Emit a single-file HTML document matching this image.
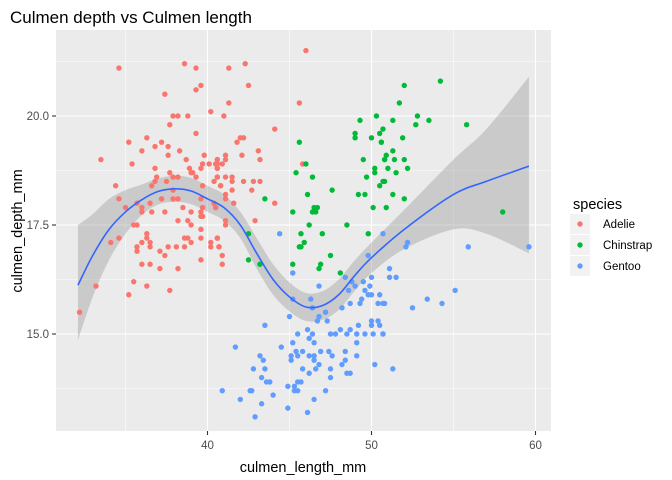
<!DOCTYPE html>
<html><head><meta charset="utf-8">
<style>
body{margin:0;background:#fff;}
svg{display:block;font-family:"Liberation Sans",sans-serif;}
</style></head>
<body>
<svg id="chart" width="672" height="480" viewBox="0 0 672 480">
<text x="10" y="23" font-size="17" fill="#000">Culmen depth vs Culmen length</text>
<rect x="56" y="30" width="495" height="401" fill="#EBEBEB"/>
<g id="grid"></g>
<g id="band"></g>
<g id="points"></g>
<g id="line"></g>
<g id="axes"></g>
<text x="303" y="472" font-size="14.5" text-anchor="middle" fill="#000">culmen_length_mm</text>
<text transform="translate(22,231) rotate(-90)" font-size="14.5" text-anchor="middle" fill="#000">culmen_depth_mm</text>
<g>
<text x="573" y="209" font-size="14.5" fill="#000">species</text>
<g id="legend"></g>
</g>
</svg>
<script>
const xTicks=[40,50,60];
const yTicks=[15.0,17.5,20.0];
const xMinor=[35,45,55];
const yMinor=[13.75,16.25,18.75,21.25];
const speciesNames=["Adelie","Chinstrap","Gentoo"];
const speciesColors=["#F8766D","#00BA38","#619CFF"];
const adelieX=[34.6,38.6,39.3,39.6,39.3,37.4,40.2,37.9,38.2,38.8,37.7,39.3,36.3,35.2,37.2,36.8,37.6,36.0,38.3,37.6,39.8,33.5,38.7,40.6,35.4,39.7,40.1,40.5,36.8,38.9,39.6,40.6,37.7,39.0,39.1,36.9,37.9,38.2,39.3,40.6,36.8,37.5,40.4,34.4,36.6,39.7,40.8,37.9,34.6,37.2,37.9,38.2,39.6,35.7,36.5,40.4,35.0,36.0,38.5,39.7,40.5,36.0,36.6,37.4,39.0,39.6,39.6,39.7,38.2,38.8,35.5,35.7,39.0,39.6,36.3,34.1,34.6,36.0,36.5,36.3,38.6,38.8,39.6,40.6,39.0,40.2,35.7,36.5,37.6,38.1,38.6,40.2,40.7,35.7,37.1,37.4,39.6,36.0,36.5,37.1,38.2,35.5,33.2,36.3,37.7,35.2,32.2,46.0,42.3,41.3,42.5,41.3,45.6,41.0,44.1,42.0,42.2,41.8,43.1,41.1,42.1,43.2,40.6,41.1,40.6,40.9,45.8,40.6,40.6,41.1,41.5,41.5,42.2,42.8,43.2,40.8,41.5,42.7,41.1,41.1,41.6,44.1,40.5,41.1,42.9,41.1,40.6,40.7,40.9,40.9];
const adelieY=[21.1,21.2,21.1,20.7,20.6,20.5,20.1,20.0,20.0,20.0,19.8,19.6,19.5,19.4,19.4,19.3,19.3,19.2,19.2,19.1,19.1,19.0,19.0,19.0,18.9,18.9,18.9,18.9,18.8,18.8,18.8,18.8,18.7,18.7,18.7,18.6,18.6,18.6,18.6,18.6,18.5,18.5,18.5,18.4,18.4,18.4,18.4,18.3,18.1,18.1,18.1,18.1,18.1,18.0,18.0,18.0,17.9,17.9,17.9,17.9,17.9,17.8,17.8,17.8,17.8,17.8,17.7,17.7,17.6,17.6,17.5,17.5,17.5,17.4,17.3,17.1,17.2,17.1,17.1,17.2,17.2,17.2,17.2,17.2,17.1,17.1,17.0,17.0,17.0,17.0,17.0,17.0,17.0,16.9,16.9,16.8,16.7,16.6,16.6,16.5,16.5,16.2,16.1,16.1,16.0,15.9,15.5,21.5,21.2,21.1,20.7,20.3,20.3,20.0,19.7,19.5,19.5,19.4,19.2,19.1,19.1,19.0,19.0,19.0,18.9,18.9,18.9,18.8,18.6,18.6,18.6,18.5,18.5,18.5,18.5,18.4,18.3,18.3,18.2,18.1,18.0,18.0,17.9,17.6,17.6,17.5,17.2,17.0,16.8,16.6];
const chinstrapX=[49.3,50.3,50.7,49.0,50.5,49.0,50.0,45.6,50.6,49.5,50.8,46.0,50.2,45.4,50.2,46.4,49.7,50.7,50.5,47.6,46.1,49.2,49.6,43.5,46.5,46.7,50.1,45.2,46.4,46.6,46.2,48.5,45.7,47.0,49.8,42.5,45.9,45.6,45.7,47.5,42.5,43.2,45.2,46.9,46.8,48.1,52.0,54.2,51.7,52.8,51.3,53.5,52.7,55.8,51.9,50.6,51.3,50.9,50.8,51.4,52.0,51.0,52.2,51.5,50.8,51.3,52.0,50.9,58.0];
const chinstrapY=[19.9,20.0,19.7,19.6,19.6,19.5,19.5,19.4,19.4,19.0,19.0,18.9,18.8,18.7,18.7,18.6,18.6,18.5,18.4,18.3,18.2,18.2,18.2,18.1,17.9,17.9,17.9,17.8,17.8,17.8,17.5,17.5,17.3,17.3,17.3,17.3,17.1,17.0,17.0,16.8,16.7,16.6,16.6,16.6,16.5,16.4,20.7,20.8,20.3,20.0,19.9,19.9,19.8,19.8,19.5,19.4,19.2,19.1,19.0,19.0,19.0,18.8,18.8,18.7,18.5,18.2,18.1,17.9,17.8];
const gentooX=[44.4,50.7,49.8,45.2,48.4,50.0,48.8,49.5,46.8,49.0,49.9,49.6,48.6,49.8,50.0,50.5,45.2,46.3,49.4,48.7,49.3,50.4,50.7,46.4,48.2,47.2,45.0,46.8,46.7,47.3,50.0,50.4,43.5,49.2,50.0,50.5,46.1,48.1,48.7,45.5,46.4,47.5,47.8,48.5,49.1,49.6,50.1,50.7,46.2,46.5,45.2,49.1,41.7,44.5,45.4,45.8,46.9,47.4,48.4,43.2,45.1,45.5,46.2,46.5,47.6,49.1,43.4,45.1,46.5,48.4,46.8,48.2,50.2,42.8,43.5,45.8,46.6,47.5,46.2,48.5,48.7,43.3,47.5,43.6,43.8,45.5,45.7,44.9,45.3,40.9,42.6,42.7,45.3,45.5,47.2,42.0,46.5,44.0,43.3,44.9,46.1,42.9,52.1,52.2,55.9,59.6,51.1,51.1,51.5,55.1,50.8,54.3,53.4,52.5,50.7,51.3];
const gentooY=[17.3,17.3,16.8,16.4,16.3,16.3,16.2,16.2,16.1,16.1,16.1,16.0,16.0,15.9,15.9,15.9,15.8,15.8,15.8,15.7,15.7,15.7,15.7,15.6,15.6,15.5,15.4,15.4,15.3,15.3,15.3,15.3,15.2,15.2,15.2,15.2,15.1,15.1,15.1,15.0,15.0,15.0,15.0,15.0,15.0,15.0,15.0,15.0,14.9,14.8,14.8,14.8,14.7,14.7,14.6,14.6,14.6,14.6,14.6,14.5,14.5,14.5,14.5,14.5,14.5,14.5,14.4,14.4,14.4,14.4,14.3,14.3,14.3,14.2,14.2,14.2,14.2,14.2,14.1,14.1,14.1,14.0,14.0,13.9,13.9,13.9,13.9,13.8,13.8,13.7,13.7,13.7,13.7,13.7,13.7,13.5,13.5,13.6,13.4,13.3,13.2,13.1,17.0,17.1,17.0,17.0,16.5,16.3,16.3,16.0,15.7,15.7,15.8,15.6,15.0,14.2];
const smoothX=[32.1,33,34,35,36,37,38,39,40,41,42,43,44,45,46,47,48,49,50,52,55,57,59.6];
const smoothFit=[16.12,16.8,17.4,17.8,18.08,18.27,18.33,18.28,18.1,17.9,17.5,16.85,16.25,15.85,15.62,15.65,15.9,16.35,16.75,17.4,18.2,18.5,18.85];
const smoothHi=[17.5,17.75,18.1,18.3,18.43,18.57,18.63,18.58,18.4,18.2,17.8,17.2,16.6,16.18,15.94,15.98,16.25,16.7,17.1,17.85,19.0,19.7,20.9];
const smoothLo=[14.86,15.85,16.7,17.3,17.73,17.97,18.03,17.98,17.8,17.6,17.2,16.5,15.9,15.52,15.3,15.32,15.55,16.0,16.4,16.95,17.4,17.3,16.85];

const NS='http://www.w3.org/2000/svg';
const PL=56,PR=551,PT=30,PB=431;
function sx(v){return 207.5+(v-40)*16.4;}
function sy(v){return 116-(v-20)*43.6;}
function mk(tag,attrs,parent){const e=document.createElementNS(NS,tag);for(const k in attrs)e.setAttribute(k,attrs[k]);parent.appendChild(e);return e;}
// Catmull-Rom spline through pixel points
function spline(P,first){
 let s=first?('M'+P[0][0]+','+P[0][1]):('L'+P[0][0]+','+P[0][1]);
 for(let i=0;i<P.length-1;i++){
  const p0=P[Math.max(0,i-1)],p1=P[i],p2=P[i+1],p3=P[Math.min(P.length-1,i+2)];
  const c1x=p1[0]+(p2[0]-p0[0])/6,c1y=p1[1]+(p2[1]-p0[1])/6;
  const c2x=p2[0]-(p3[0]-p1[0])/6,c2y=p2[1]-(p3[1]-p1[1])/6;
  s+='C'+c1x+','+c1y+' '+c2x+','+c2y+' '+p2[0]+','+p2[1];
 }
 return s;
}
const grid=document.getElementById('grid');
xMinor.forEach(v=>{const l=mk('line',{x1:sx(v),x2:sx(v),y1:PT,y2:PB,stroke:'#fff','stroke-width':0.55},grid);

});
yMinor.forEach(v=>{const l=mk('line',{x1:PL,x2:PR,y1:sy(v),y2:sy(v),stroke:'#fff','stroke-width':0.55},grid);

});
const axes=document.getElementById('axes');
xTicks.forEach(v=>{const l=mk('line',{x1:sx(v),x2:sx(v),y1:PT,y2:PB,stroke:'#fff','stroke-width':1.1},grid);


const t=mk('line',{x1:sx(v),x2:sx(v),y1:PB,y2:PB+4,stroke:'#333','stroke-width':1.1},axes);


const tx=mk('text',{x:sx(v),y:PB+18,'font-size':11.5,'text-anchor':'middle',fill:'#4D4D4D'},axes);tx.textContent=String(v);

});
yTicks.forEach(v=>{const l=mk('line',{x1:PL,x2:PR,y1:sy(v),y2:sy(v),stroke:'#fff','stroke-width':1.1},grid);


const t=mk('line',{x1:PL-4,x2:PL,y1:sy(v),y2:sy(v),stroke:'#333','stroke-width':1.1},axes);


const tx=mk('text',{x:PL-7,y:sy(v)+4,'font-size':11.5,'text-anchor':'end',fill:'#4D4D4D'},axes);tx.textContent=v.toFixed(1);

});
// band
const hiP=smoothX.map((x,i)=>[sx(x),sy(smoothHi[i])]);
const loP=smoothX.map((x,i)=>[sx(x),sy(smoothLo[i])]).reverse();
const band=mk('path',{d:spline(hiP,true)+spline(loP,false)+'Z',fill:'#999','fill-opacity':0.4},document.getElementById('band'));


// points
const pts=document.getElementById('points');
[[adelieX,adelieY],[chinstrapX,chinstrapY],[gentooX,gentooY]].forEach((s,k)=>{
 s[0].forEach((x,i)=>{const c=mk('circle',{cx:sx(x),cy:sy(s[1][i]),r:2.7,fill:speciesColors[k]},pts);
 
 });});
// line
const fitP=smoothX.map((x,i)=>[sx(x),sy(smoothFit[i])]);
const ln=mk('path',{d:spline(fitP,true),fill:'none',stroke:'#3366FF','stroke-width':1.6},document.getElementById('line'));


// legend
const lg=document.getElementById('legend');
speciesNames.forEach((n,k)=>{const y=224+k*21;
 const bg=mk('rect',{x:570,y:y-10,width:20,height:20,fill:'#F2F2F2'},lg);
 
 
 const c=mk('circle',{cx:580,cy:y,r:2.7,fill:speciesColors[k]},lg);
 
 
 const t=mk('text',{x:603,y:y+4,'font-size':11.5,fill:'#000'},lg);t.textContent=n;
 
 });
</script>
</body></html>
